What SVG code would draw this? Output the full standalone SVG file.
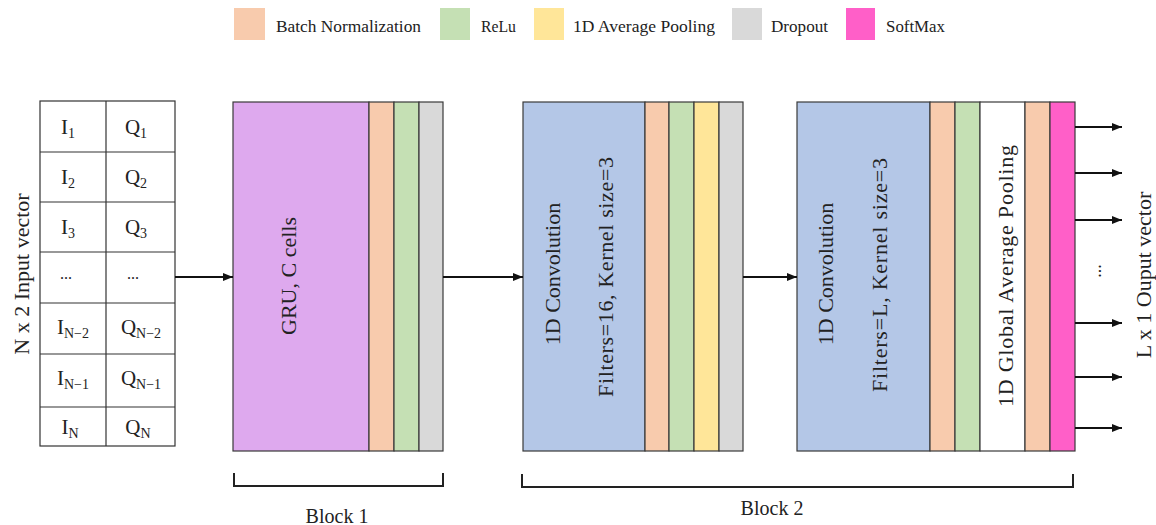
<svg xmlns="http://www.w3.org/2000/svg" width="1156" height="525" viewBox="0 0 1156 525">
<style>
.t{font-family:"Liberation Serif","Times New Roman",serif;fill:#222}
.lg{font-size:17.5px}
.big{font-size:22px}
.cell{font-family:"Liberation Serif","DejaVu Serif",serif;font-size:21px;fill:#222;text-anchor:middle}
.sub{font-size:14px}
.blk{stroke:#3a3a3a;stroke-width:1.2}
.tbl{fill:#fff;stroke:#333;stroke-width:1.2}
.con{stroke:#111;stroke-width:1.8;fill:none}
.br{stroke:#222;stroke-width:2;fill:none}
.bn{fill:#F8CBAD}.re{fill:#C5E0B4}.ap{fill:#FFE699}.dr{fill:#D9D9D9}.sm{fill:#FF5FC8}
</style>
<defs>
<marker id="ah" viewBox="0 0 10 10" refX="10" refY="5" markerWidth="10" markerHeight="10" markerUnits="userSpaceOnUse" orient="auto">
<path d="M0,1 L10,5 L0,9 z" fill="#111"/>
</marker>
</defs>
<rect width="1156" height="525" fill="#fff"/>

<g id="legend">
<rect x="234" y="8" width="31" height="32" class="bn"/>
<text x="276" y="32" class="t lg" textLength="145" lengthAdjust="spacingAndGlyphs">Batch Normalization</text>
<rect x="440" y="8" width="30" height="32" class="re"/>
<text x="481" y="32" class="t lg" textLength="35" lengthAdjust="spacingAndGlyphs">ReLu</text>
<rect x="534" y="8" width="30" height="32" class="ap"/>
<text x="573" y="32" class="t lg" textLength="142" lengthAdjust="spacing">1D Average Pooling</text>
<rect x="732" y="8" width="30" height="32" class="dr"/>
<text x="771" y="32" class="t lg" textLength="57" lengthAdjust="spacingAndGlyphs">Dropout</text>
<rect x="846" y="8" width="29" height="32" class="sm"/>
<text x="886" y="32" class="t lg" textLength="59" lengthAdjust="spacingAndGlyphs">SoftMax</text>
</g>

<g id="input">
<rect x="40" y="101" width="135" height="345" class="tbl"/>
<line x1="106" y1="101" x2="106" y2="446" class="tbl"/>
<line x1="40" y1="152" x2="175" y2="152" class="tbl"/>
<line x1="40" y1="202" x2="175" y2="202" class="tbl"/>
<line x1="40" y1="252" x2="175" y2="252" class="tbl"/>
<line x1="40" y1="303" x2="175" y2="303" class="tbl"/>
<line x1="40" y1="354" x2="175" y2="354" class="tbl"/>
<line x1="40" y1="407" x2="175" y2="407" class="tbl"/>
<text x="68" y="134" class="cell">I<tspan class="sub" dy="4">1</tspan></text>
<text x="136" y="134" class="cell">Q<tspan class="sub" dy="4">1</tspan></text>
<text x="68" y="184" class="cell">I<tspan class="sub" dy="4">2</tspan></text>
<text x="136" y="184" class="cell">Q<tspan class="sub" dy="4">2</tspan></text>
<text x="68" y="234" class="cell">I<tspan class="sub" dy="4">3</tspan></text>
<text x="136" y="234" class="cell">Q<tspan class="sub" dy="4">3</tspan></text>
<text x="66" y="279" class="cell" style="font-size:16px">...</text>
<text x="133" y="279" class="cell" style="font-size:16px">...</text>
<text x="73" y="334" class="cell">I<tspan class="sub" dy="4">N−2</tspan></text>
<text x="141" y="334" class="cell">Q<tspan class="sub" dy="4">N−2</tspan></text>
<text x="73" y="385" class="cell">I<tspan class="sub" dy="4">N−1</tspan></text>
<text x="141" y="385" class="cell">Q<tspan class="sub" dy="4">N−1</tspan></text>
<text x="70" y="434" class="cell">I<tspan class="sub" dy="4">N</tspan></text>
<text x="138" y="434" class="cell">Q<tspan class="sub" dy="4">N</tspan></text>
<text transform="translate(29,274) rotate(-90)" text-anchor="middle" class="t big">N x 2 Input vector</text>
</g>

<g id="block1">
<rect x="233" y="102" width="136" height="349" fill="#DEA9EE" class="blk"/>
<rect x="369" y="102" width="25" height="349" class="bn blk"/>
<rect x="394" y="102" width="25" height="349" class="re blk"/>
<rect x="419" y="102" width="24" height="349" class="dr blk"/>
<text transform="translate(296,276) rotate(-90)" text-anchor="middle" class="t big">GRU, C cells</text>
</g>

<g id="block2a">
<rect x="523" y="102" width="122" height="349" fill="#B4C7E7" class="blk"/>
<rect x="645" y="102" width="24" height="349" class="bn blk"/>
<rect x="669" y="102" width="25" height="349" class="re blk"/>
<rect x="694" y="102" width="25" height="349" class="ap blk"/>
<rect x="719" y="102" width="24" height="349" class="dr blk"/>
<text transform="translate(560,274) rotate(-90)" text-anchor="middle" class="t big">1D Convolution</text>
<text transform="translate(613,277) rotate(-90)" text-anchor="middle" class="t big" textLength="240" lengthAdjust="spacing">Filters=16, Kernel size=3</text>
</g>

<g id="block2b">
<rect x="797" y="102" width="133" height="349" fill="#B4C7E7" class="blk"/>
<rect x="930" y="102" width="25" height="349" class="bn blk"/>
<rect x="955" y="102" width="25" height="349" class="re blk"/>
<rect x="980" y="102" width="45" height="349" fill="#fff" class="blk"/>
<rect x="1025" y="102" width="25" height="349" class="bn blk"/>
<rect x="1050" y="102" width="25" height="349" class="sm blk"/>
<text transform="translate(833,274) rotate(-90)" text-anchor="middle" class="t big">1D Convolution</text>
<text transform="translate(887,275) rotate(-90)" text-anchor="middle" class="t big" textLength="234" lengthAdjust="spacing">Filters=L, Kernel size=3</text>
<text transform="translate(1013,276) rotate(-90)" text-anchor="middle" class="t big" textLength="262" lengthAdjust="spacing">1D Global Average Pooling</text>
</g>

<g id="output">
<text transform="translate(1101,271) rotate(-90)" text-anchor="middle" class="t" style="font-size:18px">...</text>
<text transform="translate(1151,275) rotate(-90)" text-anchor="middle" class="t big">L x 1 Ouput vector</text>
</g>

<g id="connectors">
<line x1="175" y1="277" x2="233" y2="277" class="con" marker-end="url(#ah)"/>
<line x1="443" y1="277" x2="523" y2="277" class="con" marker-end="url(#ah)"/>
<line x1="743" y1="277" x2="797" y2="277" class="con" marker-end="url(#ah)"/>
<line x1="1075" y1="127" x2="1122" y2="127" class="con" marker-end="url(#ah)"/>
<line x1="1075" y1="173" x2="1122" y2="173" class="con" marker-end="url(#ah)"/>
<line x1="1075" y1="220" x2="1122" y2="220" class="con" marker-end="url(#ah)"/>
<line x1="1075" y1="323" x2="1122" y2="323" class="con" marker-end="url(#ah)"/>
<line x1="1075" y1="377" x2="1122" y2="377" class="con" marker-end="url(#ah)"/>
<line x1="1075" y1="428" x2="1122" y2="428" class="con" marker-end="url(#ah)"/>
</g>

<g id="brackets">
<path d="M234,473 V486 H443 V473" class="br"/>
<text x="337" y="523" text-anchor="middle" class="t" style="font-size:20px">Block 1</text>
<path d="M522,474 V487 H1073 V474" class="br"/>
<text x="772" y="515" text-anchor="middle" class="t" style="font-size:20px">Block 2</text>
</g>
</svg>
